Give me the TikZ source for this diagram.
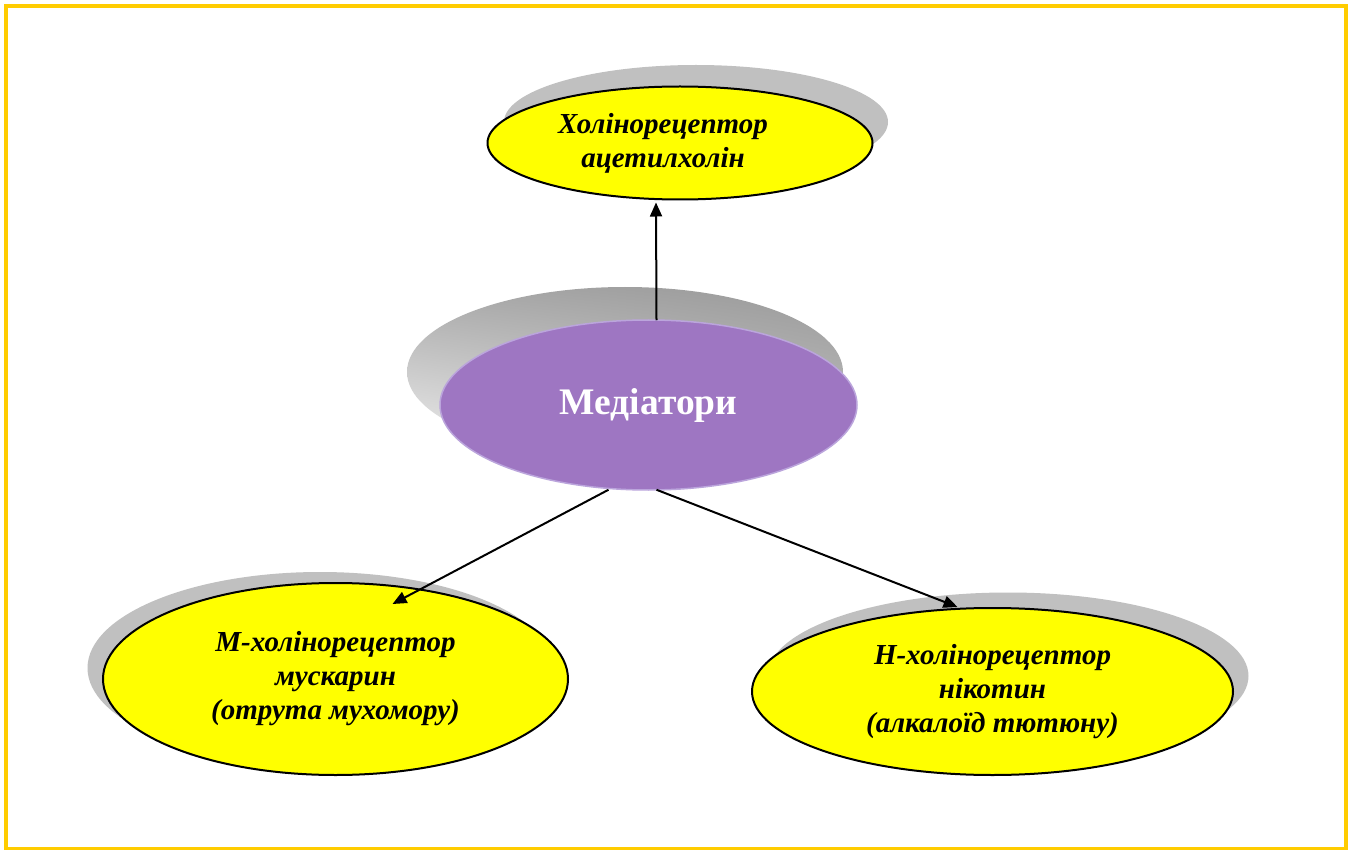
\documentclass[tikz,border=0pt]{standalone}
\usepackage{fontspec}
\setmainfont{Liberation Serif}
\usetikzlibrary{arrows.meta,calc,shapes.geometric,shadings}

\definecolor{frameyellow}{HTML}{FFCC00}
\definecolor{boxyellow}{HTML}{FFFF00}
\definecolor{shadowgray}{HTML}{C0C0C0}
\definecolor{medpurple}{HTML}{9E76C2}
\definecolor{medrim}{HTML}{BBA5DC}
\definecolor{shUL}{HTML}{A8A8A8}
\definecolor{shUR}{HTML}{999999}
\definecolor{shLL}{HTML}{F0F0F0}
\definecolor{shLR}{HTML}{C3C3C3}

\tikzset{
  labelfont/.style={font=\bfseries\itshape\fontsize{29}{34}\selectfont},
  receptor/.style={ellipse, draw=black, line width=2pt, fill=boxyellow,
    inner sep=0pt, align=center, labelfont},
  mediator/.style={ellipse, draw=medrim, line width=1.5pt, fill=medpurple,
    inner sep=0pt, text=white, font=\bfseries\fontsize{37.5}{44}\selectfont},
  link/.style={line width=2pt, -{Triangle[length=14pt,width=12pt]}}
}

\begin{document}
\begin{tikzpicture}[x=1pt,y=-1pt]
  \useasboundingbox (0,0) rectangle (1350,850);
  \fill[white] (0,0) rectangle (1350,850);
  \draw[frameyellow, line width=4pt] (5.5,6) rectangle (1345.5,848.5);

  % shadows behind the ellipses
  \fill[shadowgray] (696,122) ellipse [x radius=192, y radius=57];
  \fill[shadowgray] (320,668) ellipse [x radius=232.5, y radius=96];
  \fill[shadowgray] (1008,676) ellipse [x radius=240.5, y radius=83.5];
  \shade[upper left=shUL, upper right=shUR, lower left=shLL, lower right=shLR]
    (625,372) ellipse [x radius=218, y radius=85];

  % nodes
  \node[receptor, minimum width=385pt, minimum height=113pt] (top) at (680,143) {};
  \node[align=center, inner sep=0pt, labelfont] (toptext) at (663,143)
    {Холінорецептор\\ацетилхолін};
  \node[mediator, minimum width=417pt, minimum height=170pt] (med) at (648.5,405)
    {Медіатори};
  \node[receptor, minimum width=465pt, minimum height=192pt] (ml) at (335.5,679)
    {М-холінорецептор\\мускарин\\(отрута мухомору)};
  \node[receptor, minimum width=481pt, minimum height=167pt] (nr) at (992.5,691.5)
    {Н-холінорецептор\\нікотин\\(алкалоїд тютюну)};

  % connectors
  \draw[link] ($(med.north)+(8,1)$) -- ($(top.south)+(-24,2)$);
  \draw[link] ($(med.south)+(-40,-1)$) -- ($(ml.north)+(57,22)$);
  \draw[link] ($(med.south)+(8,-1)$) -- ($(nr.north)+(-35,0)$);
\end{tikzpicture}
\end{document}
